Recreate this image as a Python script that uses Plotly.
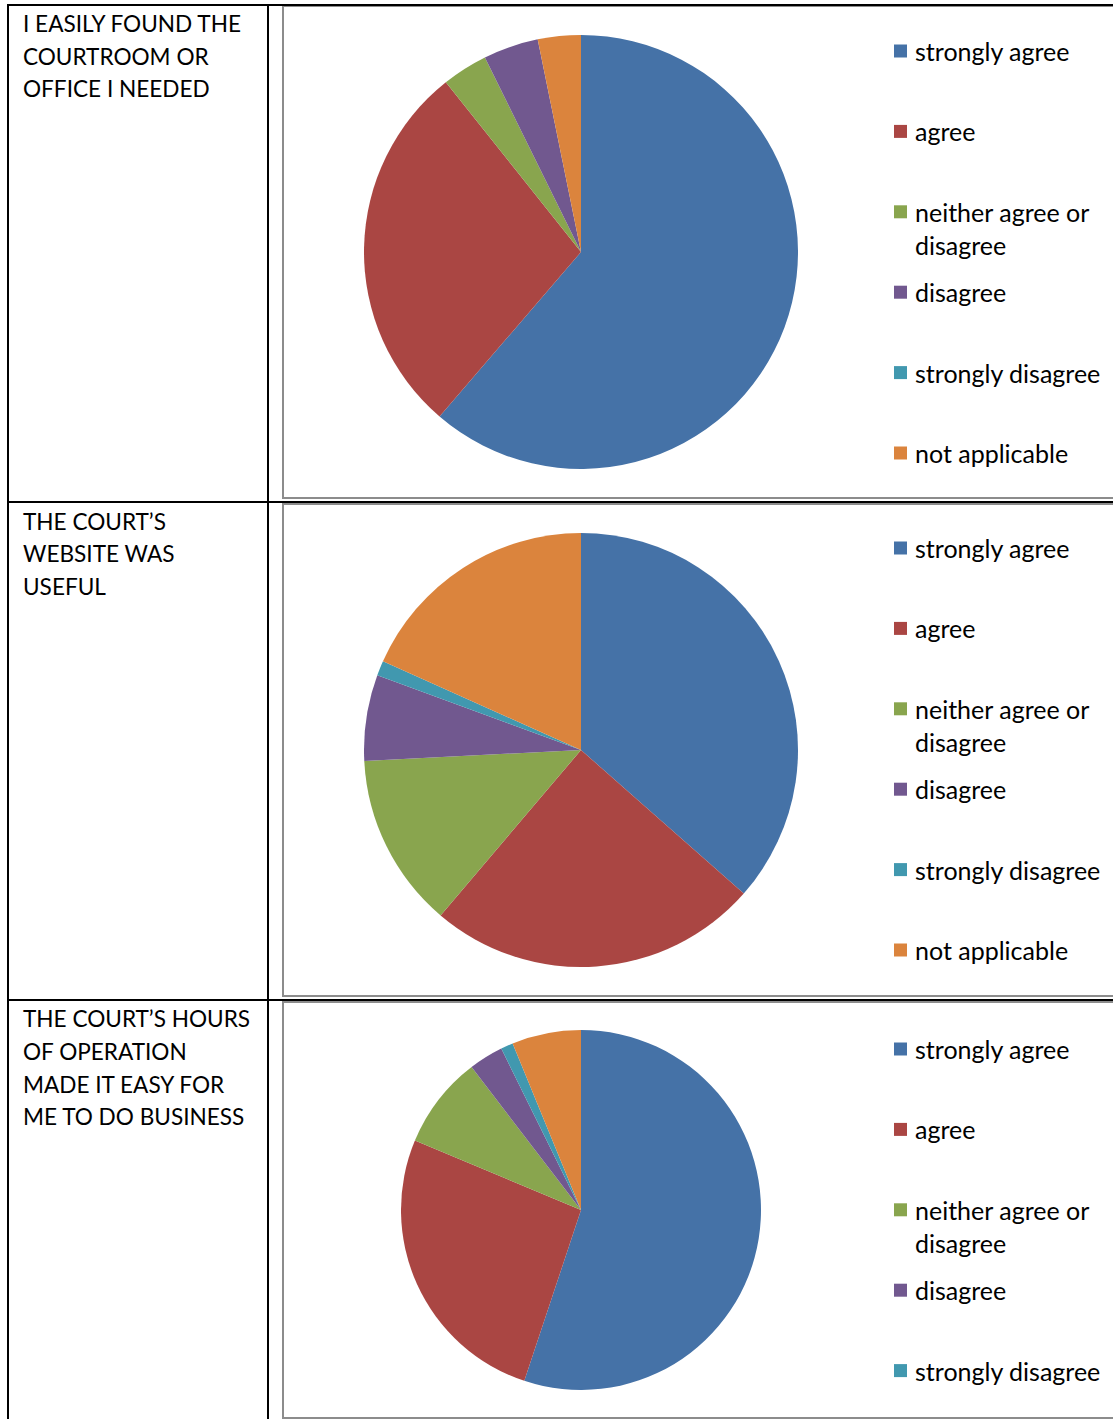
import plotly.graph_objects as go

W, H = 1113, 1419

questions = [
    ["I EASILY FOUND THE", "COURTROOM OR", "OFFICE I NEEDED"],
    ["THE COURT’S", "WEBSITE WAS", "USEFUL"],
    ["THE COURT’S HOURS", "OF OPERATION", "MADE IT EASY FOR", "ME TO DO BUSINESS"],
]
labels = ["strongly agree", "agree", "neither agree or disagree",
          "disagree", "strongly disagree", "not applicable"]
legend_lines = [["strongly agree"], ["agree"], ["neither agree or", "disagree"],
                ["disagree"], ["strongly disagree"], ["not applicable"]]
found_courtroom = [61.3, 28.0, 3.4, 4.1, 0.0, 3.2]
website_useful = [36.5, 24.7, 13.0, 6.4, 1.1, 18.3]
hours_easy = [55.1, 26.2, 8.3, 3.1, 1.1, 6.2]
colors = ["#4572A7", "#AA4643", "#89A54E", "#71588F", "#4198AF", "#DB843D"]

series = [found_courtroom, website_useful, hours_easy]

# row geometry in pixels: table row top, chart box top/bottom, pie centre/radius, legend first y
rows = [
    dict(top=5, text=24, box=(6, 498), cy=252, r=217, leg=51),
    dict(top=502, text=521, box=(504, 996), cy=750, r=217, leg=548),
    dict(top=1000, text=1019, box=(1002, 1418), cy=1210, r=180, leg=1049),
]
CX = 581
FONT = "Lato, Carlito, Calibri, sans-serif"


def px(x):
    return x / W


def py(y):
    return 1 - y / H


def text_at(x, y, s, size):
    return dict(x=px(x), y=py(y), xref="paper", yref="paper",
                xanchor="left", yanchor="middle", align="left",
                text=s, showarrow=False,
                font=dict(family=FONT, size=size, color="#000000"))


fig = go.Figure()
shapes, annotations = [], []

for q, vals, row in zip(questions, series, rows):
    r = row["r"]
    fig.add_trace(go.Pie(
        labels=labels,
        values=vals,
        marker=dict(colors=colors, line=dict(width=0)),
        sort=False,
        direction="clockwise",
        rotation=0,
        textinfo="none",
        showlegend=False,
        domain=dict(x=[px(CX - r), px(CX + r)],
                    y=[py(row["cy"] + r), py(row["cy"] - r)]),
    ))

    # chart frame
    b0, b1 = row["box"]
    shapes.append(dict(type="rect", xref="paper", yref="paper",
                       x0=px(283), x1=px(1125), y0=py(b1), y1=py(b0),
                       line=dict(color="#8c8c8c", width=2)))

    # question text in left column
    for i, line in enumerate(q):
        annotations.append(text_at(21, row["text"] + i * 32.5, line, 22.6))

    # legend (entries that fall below the frame are clipped, as in the original)
    y = row["leg"]
    for lines, col in zip(legend_lines, colors):
        if y > H - 20:
            break
        shapes.append(dict(type="rect", xref="paper", yref="paper",
                           x0=px(894), x1=px(907), y0=py(y + 6.5), y1=py(y - 6.5),
                           fillcolor=col, line=dict(width=0)))
        for i, line in enumerate(lines):
            annotations.append(text_at(913, y + i * 33, line, 25))
        y += 80.4

# table lines
for row in rows:
    shapes.append(dict(type="line", xref="paper", yref="paper",
                       x0=px(8), x1=1, y0=py(row["top"]), y1=py(row["top"]),
                       line=dict(color="#000000", width=2)))
for x in (8, 268):
    shapes.append(dict(type="line", xref="paper", yref="paper",
                       x0=px(x), x1=px(x), y0=py(4), y1=0,
                       line=dict(color="#000000", width=2)))

fig.update_layout(
    width=W, height=H,
    margin=dict(l=0, r=0, t=0, b=0),
    paper_bgcolor="white",
    plot_bgcolor="white",
    shapes=shapes,
    annotations=annotations,
    font=dict(family=FONT),
)

fig.write_html("out.html", config={"displayModeBar": False},
               post_script="document.body.style.margin='0';")
